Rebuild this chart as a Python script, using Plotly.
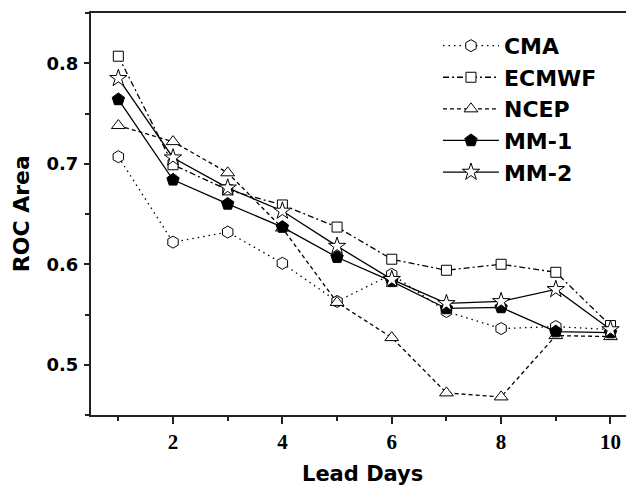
import plotly.graph_objects as go

lead_days = [1, 2, 3, 4, 5, 6, 7, 8, 9, 10]
cma = [0.707, 0.622, 0.632, 0.601, 0.563, 0.590, 0.553, 0.536, 0.538, 0.535]
ecmwf = [0.807, 0.699, 0.674, 0.659, 0.637, 0.605, 0.594, 0.600, 0.592, 0.539]
ncep = [0.738, 0.722, 0.691, 0.636, 0.562, 0.527, 0.472, 0.468, 0.529, 0.528]
mm1 = [0.764, 0.684, 0.660, 0.637, 0.607, 0.583, 0.556, 0.557, 0.533, 0.532]
mm2 = [0.785, 0.706, 0.676, 0.653, 0.618, 0.585, 0.561, 0.563, 0.575, 0.535]

series = [
    ("CMA", cma, "hexagon", "white", "1.5px,4px", 12),
    ("ECMWF", ecmwf, "square", "white", "6px,3px,2px,3px", 10),
    ("NCEP", ncep, "triangle-up", "white", "4px,3px", 12),
    ("MM-1", mm1, "pentagon", "black", "solid", 13),
    ("MM-2", mm2, "star", "white", "solid", 13),
]

SANS = "DejaVu Sans"

fig = go.Figure()
for name, vals, sym, fill, dash, size in series:
    fig.add_trace(go.Scatter(
        x=lead_days, y=vals, name=name, mode="lines+markers",
        line=dict(color="black", width=1.3, dash=dash),
        marker=dict(symbol=sym, size=size, color=fill,
                    line=dict(color="black", width=1)),
    ))

# the page body has an 8px margin, so the figure is sized/offset to fill the window
fig.update_layout(
    width=626, height=477,
    margin=dict(l=83, r=0, t=5, b=70),
    paper_bgcolor="white", plot_bgcolor="white",
    showlegend=True,
    legend=dict(
        x=0.639, y=0.9705, xanchor="left", yanchor="top",
        bgcolor="rgba(0,0,0,0)", borderwidth=0,
        font=dict(family=SANS, size=22, color="black", weight="bold"),
        itemwidth=56,
    ),
    annotations=[
        dict(text="Lead Days", xref="paper", yref="paper", x=0.5, y=-0.147,
             xanchor="center", yanchor="middle", showarrow=False,
             font=dict(family=SANS, size=21, color="black", weight="bold")),
        dict(text="ROC Area", xref="paper", yref="paper", x=-0.1285, y=0.5,
             xanchor="center", yanchor="middle", showarrow=False, textangle=-90,
             font=dict(family=SANS, size=22, color="black", weight="bold")),
    ],
)
fig.update_xaxes(
    range=[0.5, 10.43], showgrid=False, zeroline=False, automargin=False,
    showline=True, linecolor="#222", linewidth=2, mirror=True,
    tickmode="linear", tick0=0, dtick=2,
    ticks="outside", ticklen=7, tickwidth=1.5, tickcolor="#222",
    minor=dict(dtick=1, tick0=0, ticks="outside", ticklen=4, tickwidth=1.5, tickcolor="#222"),
    tickfont=dict(family="Liberation Serif", size=21, color="black", weight="bold"),
    ticklabelstandoff=0,
)
fig.update_yaxes(
    range=[0.45, 0.85], showgrid=False, zeroline=False, automargin=False,
    showline=True, linecolor="#222", linewidth=2, mirror=True,
    tickmode="linear", tick0=0.5, dtick=0.1, tickformat=".1f",
    ticks="outside", ticklen=5, tickwidth=1.5, tickcolor="#222",
    minor=dict(dtick=0.05, tick0=0.5, ticks="outside", ticklen=4, tickwidth=1.5, tickcolor="#222"),
    tickfont=dict(family=SANS, size=18, color="black", weight="bold"),
    ticklabelstandoff=2,
)

fig.write_html("out.html")
